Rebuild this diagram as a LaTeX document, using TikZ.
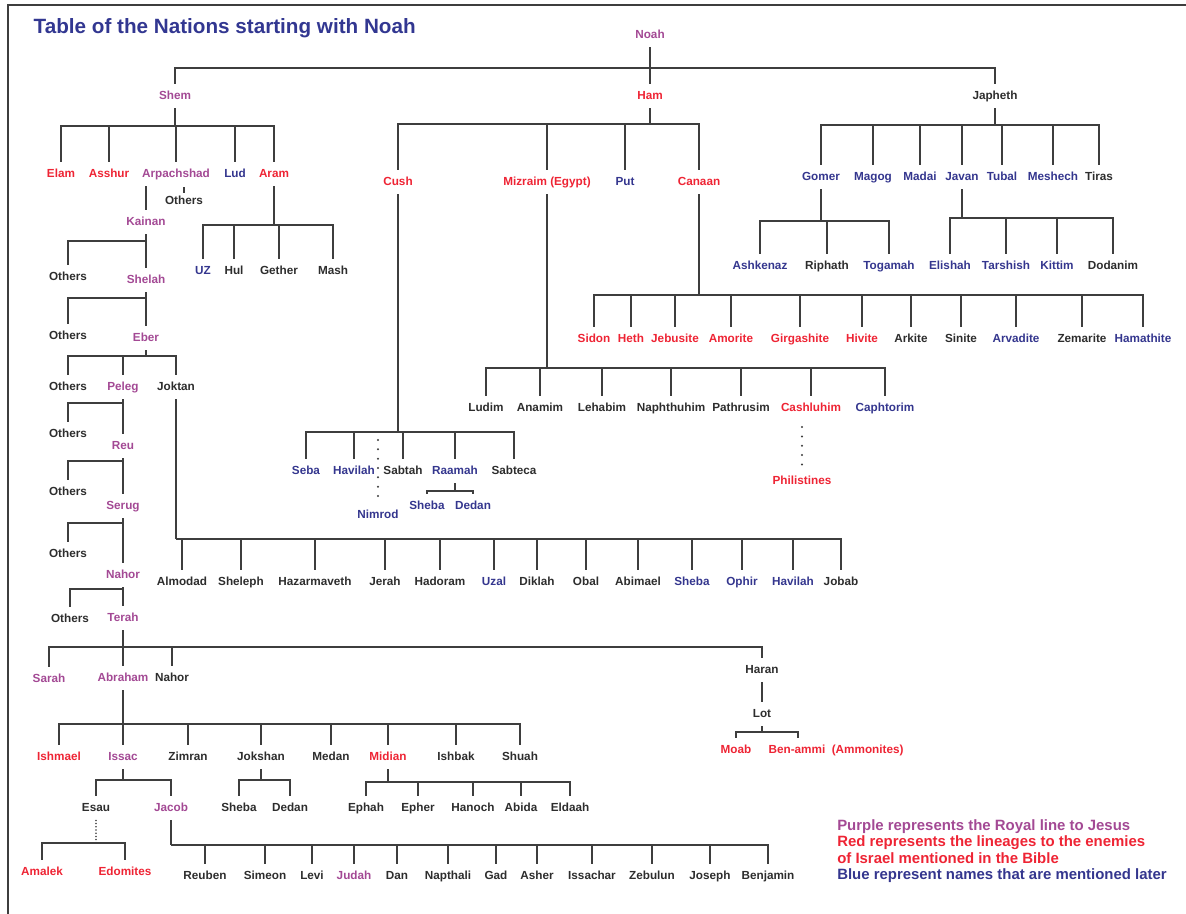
\documentclass[tikz,border=0pt]{standalone}
\usepackage{fontspec}
\setmainfont{Liberation Sans}
\usepackage{tikz}
\definecolor{purplec}{RGB}{163,73,148}
\definecolor{redc}{RGB}{238,36,52}
\definecolor{bluec}{RGB}{52,54,142}
\definecolor{darkc}{RGB}{45,45,45}
\definecolor{titlec}{RGB}{50,55,145}
\definecolor{linegray}{RGB}{62,62,62}

\begin{document}
\begin{tikzpicture}[x=0.75pt,y=-0.75pt]
        \tikzstyle{person}=[font=\fontsize{8.8}{10}\selectfont\bfseries,inner xsep=1pt,inner ysep=5pt,text height=6.4pt,text depth=1.8pt,text=darkc]
        \tikzstyle{royal}=[person,text=purplec]
        \tikzstyle{foe}=[person,text=redc]
        \tikzstyle{known}=[person,text=bluec]
        \tikzstyle{link}=[draw=linegray,line width=1.5pt]
        \tikzstyle{trail}=[draw=linegray,line width=1.7pt,line cap=round,dash pattern=on 0pt off 7pt]
        \tikzstyle{faint trail}=[draw=linegray,line width=1.3pt,line cap=round,dash pattern=on 0pt off 2.4pt]

        \useasboundingbox (0,0) rectangle (1186,914);
        \draw[line width=1.5pt,draw=linegray] (1186,5) -| (8,914);

        \node[anchor=west,text=titlec,font=\fontsize{15.5}{18}\selectfont\bfseries] (title) at (29,28) {Table of the Nations starting with Noah};

        \node[royal](noah) at (650,35){Noah};
        \node[royal](shem) at (175,96){Shem};
        \node[foe](ham) at (650,96){Ham};
        \node[person](japheth) at (995,96){Japheth};

        \node[foe](elam) at (61,174){Elam};
        \node[foe](asshur) at (109,174){Asshur};
        \node[royal](arpachshad) at (176,174){Arpachshad};
        \node[known](lud) at (235,174){Lud};
        \node[foe](aram) at (274,174){Aram};
        \node[person](others1) at (184,201){Others};
        \node[royal](kainan) at (146,222){Kainan};

        \node[known](uz) at (203,271){UZ};
        \node[person](hul) at (234,271){Hul};
        \node[person](gether) at (279,271){Gether};
        \node[person](mash) at (333,271){Mash};

        \node[person](others2) at (68,277){Others};
        \node[royal](shelah) at (146,280){Shelah};
        \node[person](others3) at (68,336){Others};
        \node[royal](eber) at (146,338){Eber};
        \node[person](others4) at (68,387){Others};
        \node[royal](peleg) at (123,387){Peleg};
        \node[person](joktan) at (176,387){Joktan};
        \node[person](others5) at (68,434){Others};
        \node[royal](reu) at (123,446){Reu};
        \node[person](others6) at (68,492){Others};
        \node[royal](serug) at (123,506){Serug};
        \node[person](others7) at (68,554){Others};
        \node[royal](nahor1) at (123,575){Nahor};
        \node[person](others8) at (70,619){Others};
        \node[royal](terah) at (123,618){Terah};

        \node[royal](sarah) at (49,679){Sarah};
        \node[royal](abraham) at (123,678){Abraham};
        \node[person](nahor2) at (172,678){Nahor};
        \node[person](haran) at (762,670){Haran};
        \node[person](lot) at (762,714){Lot};
        \node[foe](moab) at (736,750){Moab};
        \node[foe,anchor=west](benammi) at (767,750){Ben-ammi\ \ (Ammonites)};

        \node[foe](ishmael) at (59,757){Ishmael};
        \node[royal](issac) at (123,757){Issac};
        \node[person](zimran) at (188,757){Zimran};
        \node[person](jokshan) at (261,757){Jokshan};
        \node[person](medan) at (331,757){Medan};
        \node[foe](midian) at (388,757){Midian};
        \node[person](ishbak) at (456,757){Ishbak};
        \node[person](shuah) at (520,757){Shuah};

        \node[person](esau) at (96,808){Esau};
        \node[royal](jacob) at (171,808){Jacob};
        \node[person](sheba1) at (239,808){Sheba};
        \node[person](dedan1) at (290,808){Dedan};
        \node[person](ephah) at (366,808){Ephah};
        \node[person](epher) at (418,808){Epher};
        \node[person](hanoch) at (473,808){Hanoch};
        \node[person](abida) at (521,808){Abida};
        \node[person](eldaah) at (570,808){Eldaah};

        \node[foe](amalek) at (42,872){Amalek};
        \node[foe](edomites) at (125,872){Edomites};

        \node[person](reuben) at (205,876){Reuben};
        \node[person](simeon) at (265,876){Simeon};
        \node[person](levi) at (312,876){Levi};
        \node[royal](judah) at (354,876){Judah};
        \node[person](dan) at (397,876){Dan};
        \node[person](napthali) at (448,876){Napthali};
        \node[person](gad) at (496,876){Gad};
        \node[person](asher) at (537,876){Asher};
        \node[person](issachar) at (592,876){Issachar};
        \node[person](zebulun) at (652,876){Zebulun};
        \node[person](joseph) at (710,876){Joseph};
        \node[person](benjamin) at (768,876){Benjamin};

        \node[person](almodad) at (182,582){Almodad};
        \node[person](sheleph) at (241,582){Sheleph};
        \node[person](hazarmaveth) at (315,582){Hazarmaveth};
        \node[person](jerah) at (385,582){Jerah};
        \node[person](hadoram) at (440,582){Hadoram};
        \node[known](uzal) at (494,582){Uzal};
        \node[person](diklah) at (537,582){Diklah};
        \node[person](obal) at (586,582){Obal};
        \node[person](abimael) at (638,582){Abimael};
        \node[known](sheba3) at (692,582){Sheba};
        \node[known](ophir) at (742,582){Ophir};
        \node[known](havilah2) at (793,582){Havilah};
        \node[person](jobab) at (841,582){Jobab};

        \node[foe](cush) at (398,182){Cush};
        \node[foe](mizraim) at (547,182){Mizraim (Egypt)};
        \node[known](put) at (625,182){Put};
        \node[foe](canaan) at (699,182){Canaan};

        \node[known](seba) at (306,471){Seba};
        \node[known](havilah1) at (354,471){Havilah};
        \node[person](sabtah) at (403,471){Sabtah};
        \node[known](raamah) at (455,471){Raamah};
        \node[person](sabteca) at (514,471){Sabteca};
        \node[known](nimrod) at (378,515){Nimrod};
        \node[known](sheba2) at (427,506){Sheba};
        \node[known](dedan2) at (473,506){Dedan};

        \node[person](ludim) at (486,408){Ludim};
        \node[person](anamim) at (540,408){Anamim};
        \node[person](lehabim) at (602,408){Lehabim};
        \node[person](naphthuhim) at (671,408){Naphthuhim};
        \node[person](pathrusim) at (741,408){Pathrusim};
        \node[foe](cashluhim) at (811,408){Cashluhim};
        \node[known](caphtorim) at (885,408){Caphtorim};
        \node[foe](philistines) at (802,481){Philistines};

        \node[foe](sidon) at (594,339){Sidon};
        \node[foe](heth) at (631,339){Heth};
        \node[foe](jebusite) at (675,339){Jebusite};
        \node[foe](amorite) at (731,339){Amorite};
        \node[foe](girgashite) at (800,339){Girgashite};
        \node[foe](hivite) at (862,339){Hivite};
        \node[person](arkite) at (911,339){Arkite};
        \node[person](sinite) at (961,339){Sinite};
        \node[known](arvadite) at (1016,339){Arvadite};
        \node[person](zemarite) at (1082,339){Zemarite};
        \node[known](hamathite) at (1143,339){Hamathite};

        \node[known](gomer) at (821,177){Gomer};
        \node[known](magog) at (873,177){Magog};
        \node[known](madai) at (920,177){Madai};
        \node[known](javan) at (962,177){Javan};
        \node[known](tubal) at (1002,177){Tubal};
        \node[known](meshech) at (1053,177){Meshech};
        \node[person](tiras) at (1099,177){Tiras};

        \node[known](ashkenaz) at (760,266){Ashkenaz};
        \node[person](riphath) at (827,266){Riphath};
        \node[known](togamah) at (889,266){Togamah};
        \node[known](elishah) at (950,266){Elishah};
        \node[known](tarshish) at (1006,266){Tarshish};
        \node[known](kittim) at (1057,266){Kittim};
        \node[person](dodanim) at (1113,266){Dodanim};

        \node[anchor=north west,align=left,inner sep=0pt,font=\fontsize{11.2}{12.4}\selectfont\bfseries](legend) at (837,819){\textcolor{purplec}{Purple represents the Royal line to Jesus}\\\textcolor{redc}{Red represents the lineages to the enemies}\\\textcolor{redc}{of Israel mentioned in the Bible}\\\textcolor{bluec}{Blue represent names that are mentioned later}};

        \coordinate (nbar) at (noah |- 0,68);
        \draw[link] (noah) -- (nbar);
        \draw[link] (nbar) -| (shem);
        \draw[link] (nbar) -| (ham);
        \draw[link] (nbar) -| (japheth);

        \coordinate (sbar) at (shem |- 0,126);
        \draw[link] (shem) -- (sbar);
        \draw[link] (sbar) -| (elam);
        \draw[link] (sbar) -| (asshur);
        \draw[link] (sbar) -| (arpachshad);
        \draw[link] (sbar) -| (lud);
        \draw[link] (sbar) -| (aram);

        \draw[link] (arpachshad.south -| kainan) -- (kainan);
        \draw[link] ([yshift=-3pt]others1.north) -- ++(0,-6);

        \coordinate (abar) at (aram |- 0,225);
        \draw[link] (aram) -- (abar);
        \draw[link] (abar) -| (uz);
        \draw[link] (abar) -| (hul);
        \draw[link] (abar) -| (gether);
        \draw[link] (abar) -| (mash);

        \draw[link] (kainan) -- (shelah);
        \draw[link] (kainan |- 0,241) -| (others2);
        \draw[link] (shelah) -- (eber);
        \draw[link] (shelah |- 0,298) -| (others3);

        \coordinate (ebar) at (eber |- 0,356);
        \draw[link] (eber) -- (ebar);
        \draw[link] (ebar) -| (others4);
        \draw[link] (ebar) -| (peleg);
        \draw[link] (ebar) -| (joktan);

        \draw[link] (peleg) -- (reu);
        \draw[link] (peleg |- 0,403) -| (others5);
        \draw[link] (reu) -- (serug);
        \draw[link] (reu |- 0,461) -| (others6);
        \draw[link] (serug) -- (nahor1);
        \draw[link] (serug |- 0,523) -| (others7);
        \draw[link] (nahor1) -- (terah);
        \draw[link] (nahor1 |- 0,589) -| (others8);

        \coordinate (tbar) at (terah |- 0,647);
        \draw[link] (terah) -- (tbar);
        \draw[link] (tbar) -| (sarah);
        \draw[link] (tbar) -| (abraham);
        \draw[link] (tbar) -| (nahor2);
        \draw[link] (tbar) -| (haran);

        \draw[link] (haran) -- (lot);
        \coordinate (lbar) at (lot |- 0,732);
        \draw[link] (lot) -- (lbar);
        \draw[link] (lbar) -| (moab);
        \draw[link] (lbar) -| ([xshift=23pt]benammi.north west);

        \coordinate (hbar2) at (abraham |- 0,724);
        \draw[link] (abraham) -- (hbar2);
        \draw[link] (hbar2) -| (ishmael);
        \draw[link] (hbar2) -| (issac);
        \draw[link] (hbar2) -| (zimran);
        \draw[link] (hbar2) -| (jokshan);
        \draw[link] (hbar2) -| (medan);
        \draw[link] (hbar2) -| (midian);
        \draw[link] (hbar2) -| (ishbak);
        \draw[link] (hbar2) -| (shuah);

        \coordinate (ibar) at (issac |- 0,780);
        \draw[link] (issac) -- (ibar);
        \draw[link] (ibar) -| (esau);
        \draw[link] (ibar) -| (jacob);

        \coordinate (esbar) at (esau |- 0,843);
        \draw[faint trail] (esau) -- (esbar);
        \draw[link] (esbar) -| (amalek);
        \draw[link] (esbar) -| (edomites);

        \coordinate (jbar) at (jacob |- 0,845);
        \draw[link] (jacob) -- (jbar);
        \draw[link] (jbar) -| (reuben);
        \draw[link] (jbar) -| (simeon);
        \draw[link] (jbar) -| (levi);
        \draw[link] (jbar) -| (judah);
        \draw[link] (jbar) -| (dan);
        \draw[link] (jbar) -| (napthali);
        \draw[link] (jbar) -| (gad);
        \draw[link] (jbar) -| (asher);
        \draw[link] (jbar) -| (issachar);
        \draw[link] (jbar) -| (zebulun);
        \draw[link] (jbar) -| (joseph);
        \draw[link] (jbar) -| (benjamin);

        \coordinate (jkbar) at (jokshan |- 0,780);
        \draw[link] (jokshan) -- (jkbar);
        \draw[link] (jkbar) -| (sheba1);
        \draw[link] (jkbar) -| (dedan1);

        \coordinate (mbar) at (midian |- 0,782);
        \draw[link] (midian) -- (mbar);
        \draw[link] (mbar) -| (ephah);
        \draw[link] (mbar) -| (epher);
        \draw[link] (mbar) -| (hanoch);
        \draw[link] (mbar) -| (abida);
        \draw[link] (mbar) -| (eldaah);

        \coordinate (jtbar) at (joktan |- 0,539);
        \draw[link] (joktan) -- (jtbar);
        \draw[link] (jtbar) -| (almodad);
        \draw[link] (jtbar) -| (sheleph);
        \draw[link] (jtbar) -| (hazarmaveth);
        \draw[link] (jtbar) -| (jerah);
        \draw[link] (jtbar) -| (hadoram);
        \draw[link] (jtbar) -| (uzal);
        \draw[link] (jtbar) -| (diklah);
        \draw[link] (jtbar) -| (obal);
        \draw[link] (jtbar) -| (abimael);
        \draw[link] (jtbar) -| (sheba3);
        \draw[link] (jtbar) -| (ophir);
        \draw[link] (jtbar) -| (havilah2);
        \draw[link] (jtbar) -| (jobab);

        \coordinate (hbar) at (ham |- 0,124);
        \draw[link] (ham) -- (hbar);
        \draw[link] (hbar) -| (cush);
        \draw[link] (hbar) -| (mizraim);
        \draw[link] (hbar) -| (put);
        \draw[link] (hbar) -| (canaan);

        \coordinate (cbar) at (cush |- 0,432);
        \draw[link] (cush) -- (cbar);
        \draw[link] (cbar) -| (seba);
        \draw[link] (cbar) -| (havilah1);
        \draw[link] (cbar) -| (sabtah);
        \draw[link] (cbar) -| (raamah);
        \draw[link] (cbar) -| (sabteca);
        \draw[trail] ([yshift=-6pt]nimrod |- cbar) -- (nimrod);

        \coordinate (rmbar) at (raamah |- 0,491);
        \draw[link] (raamah) -- (rmbar);
        \draw[link] (rmbar) -| (sheba2);
        \draw[link] (rmbar) -| (dedan2);

        \coordinate (mzbar) at (mizraim |- 0,368);
        \draw[link] (mizraim) -- (mzbar);
        \draw[link] (mzbar) -| (ludim);
        \draw[link] (mzbar) -| (anamim);
        \draw[link] (mzbar) -| (lehabim);
        \draw[link] (mzbar) -| (naphthuhim);
        \draw[link] (mzbar) -| (pathrusim);
        \draw[link] (mzbar) -| (cashluhim);
        \draw[link] (mzbar) -| (caphtorim);
        \draw[trail] ([yshift=-5pt]cashluhim.south -| philistines) -- (philistines);

        \coordinate (cnbar) at (canaan |- 0,295);
        \draw[link] (canaan) -- (cnbar);
        \draw[link] (cnbar) -| (sidon);
        \draw[link] (cnbar) -| (heth);
        \draw[link] (cnbar) -| (jebusite);
        \draw[link] (cnbar) -| (amorite);
        \draw[link] (cnbar) -| (girgashite);
        \draw[link] (cnbar) -| (hivite);
        \draw[link] (cnbar) -| (arkite);
        \draw[link] (cnbar) -| (sinite);
        \draw[link] (cnbar) -| (arvadite);
        \draw[link] (cnbar) -| (zemarite);
        \draw[link] (cnbar) -| (hamathite);

        \coordinate (jpbar) at (japheth |- 0,125);
        \draw[link] (japheth) -- (jpbar);
        \draw[link] (jpbar) -| (gomer);
        \draw[link] (jpbar) -| (magog);
        \draw[link] (jpbar) -| (madai);
        \draw[link] (jpbar) -| (javan);
        \draw[link] (jpbar) -| (tubal);
        \draw[link] (jpbar) -| (meshech);
        \draw[link] (jpbar) -| (tiras);

        \coordinate (gbar) at (gomer |- 0,221);
        \draw[link] (gomer) -- (gbar);
        \draw[link] (gbar) -| (ashkenaz);
        \draw[link] (gbar) -| (riphath);
        \draw[link] (gbar) -| (togamah);

        \coordinate (jvbar) at (javan |- 0,218);
        \draw[link] (javan) -- (jvbar);
        \draw[link] (jvbar) -| (elishah);
        \draw[link] (jvbar) -| (tarshish);
        \draw[link] (jvbar) -| (kittim);
        \draw[link] (jvbar) -| (dodanim);
\end{tikzpicture}
\end{document}
